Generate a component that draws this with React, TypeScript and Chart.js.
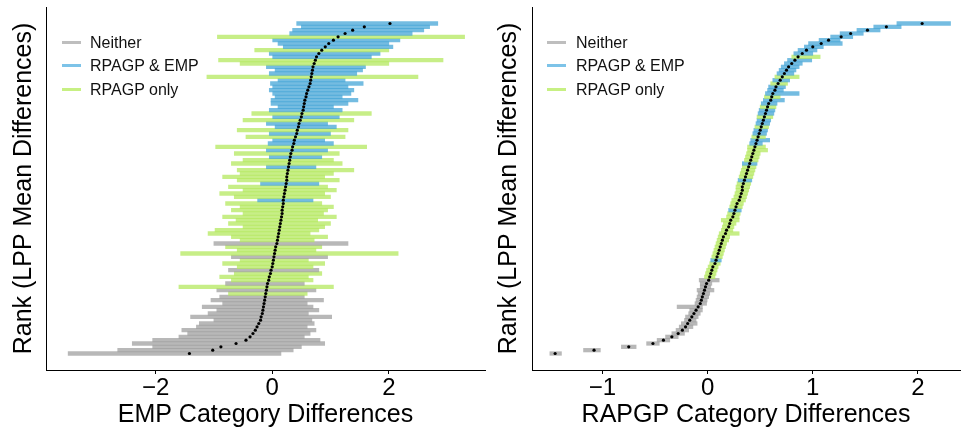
import React, { useEffect, useRef } from 'react';
import { Chart, registerables } from 'chart.js';

Chart.register(...registerables);

const FONT = "'Liberation Sans', Arial, Helvetica, sans-serif";

// Category codes: 0 = Neither, 1 = RPAGP & EMP, 2 = RPAGP only
const LEGEND_LABELS = ['Neither', 'RPAGP & EMP', 'RPAGP only'];
const LEGEND_COLORS = ['#BEBEBE', '#7DC3E8', '#C7F083'];
const BAR_COLORS = ['rgba(160,160,160,0.75)', 'rgba(70,165,215,0.75)', 'rgba(180,232,95,0.75)'];

const Y_TITLE = 'Rank (LPP Mean Differences)';
const LEFT_X_TITLE = 'EMP Category Differences';
const RIGHT_X_TITLE = 'RAPGP Category Differences';
const LEFT_TICKS = [-2, 0, 2];
const RIGHT_TICKS = [-1, 0, 1, 2];

// ---- Left panel (EMP), rows ordered by rank (bottom = 1) ----
const LEFT_MEAN = [
  -1.42, -1.02, -0.88, -0.62, -0.45, -0.38, -0.33, -0.29, -0.26, -0.23,
  -0.20, -0.19, -0.17, -0.16, -0.15, -0.14, -0.13, -0.12, -0.11, -0.10,
  -0.09, -0.08, -0.06, -0.05, -0.03, -0.02, 0.00, 0.01, 0.02, 0.03,
  0.04, 0.05, 0.06, 0.08, 0.09, 0.10, 0.11, 0.12, 0.13, 0.14,
  0.15, 0.16, 0.17, 0.17, 0.18, 0.19, 0.19, 0.20, 0.21, 0.22,
  0.23, 0.24, 0.25, 0.25, 0.26, 0.27, 0.28, 0.29, 0.30, 0.31,
  0.32, 0.34, 0.35, 0.37, 0.38, 0.40, 0.42, 0.43, 0.45, 0.46,
  0.48, 0.50, 0.51, 0.53, 0.54, 0.55, 0.56, 0.58, 0.59, 0.61,
  0.63, 0.65, 0.66, 0.67, 0.68, 0.69, 0.70, 0.72, 0.74, 0.76,
  0.80, 0.85, 0.91, 0.97, 1.05, 1.13, 1.25, 1.38, 1.58, 2.02,
];
const LEFT_LO = [
  -3.50, -2.65, -2.05, -2.40, -2.05, -1.60, -1.45, -1.55, -1.30, -1.25,
  -1.00, -1.40, -1.10, -0.95, -1.20, -0.85, -1.05, -0.90, -0.75, -0.95,
  -1.60, -0.80, -0.70, -0.90, -0.65, -0.75, -0.60, -0.85, -0.55, -0.70,
  -1.57, -0.60, -0.80, -1.00, -0.55, -0.70, -1.10, -0.98, -0.50, -0.75,
  -0.62, -0.85, -0.50, -0.70, -0.55, -0.80, -0.25, -0.65, -0.90, -0.50,
  -0.75, -0.20, -0.60, -0.85, -0.55, -0.60, -0.10, -0.70, -0.50, -0.05,
  -0.65, -0.10, -0.97, -0.07, 0.00, -0.45, -0.05, -0.60, 0.05, -0.10,
  -0.50, 0.00, -0.35, -0.05, 0.10, -0.02, -0.02, 0.05, 0.00, -0.05,
  0.00, -0.03, 0.10, -1.12, -0.05, 0.05, -0.10, -0.55, -0.92, 0.00,
  -0.05, -0.30, 0.19, 0.10, 0.00, -0.94, 0.30, 0.35, 0.50, 0.42,
];
const LEFT_HI = [
  0.15, 0.36, 0.50, 0.90, 0.82, 0.55, 0.65, 0.75, 0.60, 0.72,
  0.68, 1.02, 0.62, 0.80, 0.70, 0.60, 0.88, 0.55, 0.60, 0.75,
  1.05, 0.55, 0.70, 0.62, 0.85, 0.80, 0.70, 0.90, 0.62, 0.95,
  2.16, 0.75, 0.85, 1.30, 0.72, 0.95, 0.65, 0.80, 0.90, 1.00,
  0.78, 1.10, 0.88, 0.95, 1.05, 0.85, 0.70, 1.00, 0.90, 1.10,
  0.95, 0.80, 1.15, 0.90, 1.05, 1.40, 0.75, 1.20, 1.05, 0.85,
  1.15, 0.95, 1.62, 1.05, 0.90, 1.25, 1.00, 1.30, 1.10, 0.95,
  1.40, 1.15, 1.70, 1.20, 1.05, 1.30, 1.47, 1.20, 1.35, 1.40,
  1.30, 1.56, 1.25, 2.50, 1.45, 1.55, 1.60, 2.00, 2.93, 1.70,
  1.85, 2.00, 2.07, 2.00, 2.19, 3.30, 2.40, 2.60, 2.70, 2.84,
];
const LEFT_CAT = [
  0, 0, 0, 0, 0, 0, 0, 0, 0, 0,
  0, 0, 0, 0, 0, 0, 0, 0, 2, 0,
  2, 0, 2, 2, 2, 0, 2, 2, 2, 0,
  2, 2, 2, 0, 2, 2, 2, 2, 2, 2,
  2, 2, 2, 2, 2, 2, 1, 2, 2, 2,
  2, 1, 2, 2, 2, 2, 1, 2, 2, 1,
  2, 1, 2, 1, 1, 2, 1, 2, 1, 1,
  2, 1, 2, 1, 1, 1, 1, 1, 1, 1,
  1, 1, 1, 2, 1, 1, 1, 2, 2, 1,
  1, 2, 1, 1, 1, 2, 1, 1, 1, 1,
];

// ---- Right panel (RAPGP) ----
const RIGHT_MEAN = [
  -1.45, -1.08, -0.75, -0.52, -0.42, -0.34, -0.28, -0.24, -0.21, -0.19,
  -0.17, -0.15, -0.13, -0.11, -0.09, -0.07, -0.06, -0.05, -0.04, -0.03,
  -0.02, -0.01, 0.01, 0.02, 0.03, 0.04, 0.05, 0.07, 0.08, 0.09,
  0.10, 0.11, 0.12, 0.13, 0.14, 0.15, 0.17, 0.18, 0.20, 0.21,
  0.22, 0.24, 0.25, 0.26, 0.27, 0.28, 0.30, 0.31, 0.32, 0.33,
  0.33, 0.34, 0.35, 0.36, 0.37, 0.38, 0.39, 0.40, 0.41, 0.42,
  0.43, 0.44, 0.45, 0.46, 0.47, 0.48, 0.49, 0.50, 0.51, 0.52,
  0.53, 0.54, 0.55, 0.56, 0.57, 0.58, 0.60, 0.61, 0.62, 0.64,
  0.65, 0.67, 0.69, 0.71, 0.73, 0.75, 0.77, 0.80, 0.83, 0.86,
  0.90, 0.94, 1.00, 1.08, 1.15, 1.27, 1.36, 1.52, 1.70, 2.04,
];
const RIGHT_LO = [
  -1.50, -1.18, -0.82, -0.58, -0.48, -0.40, -0.34, -0.30, -0.27, -0.25,
  -0.22, -0.21, -0.18, -0.17, -0.29, -0.12, -0.11, -0.10, -0.09, -0.10,
  -0.07, -0.07, -0.08, -0.03, -0.02, -0.01, 0.00, 0.02, 0.03, 0.04,
  0.05, 0.06, 0.07, 0.08, 0.09, 0.10, 0.11, 0.13, 0.14, 0.15,
  0.13, 0.18, 0.19, 0.20, 0.21, 0.22, 0.23, 0.25, 0.26, 0.27,
  0.27, 0.28, 0.29, 0.30, 0.31, 0.32, 0.33, 0.33, 0.35, 0.36,
  0.37, 0.38, 0.38, 0.40, 0.41, 0.42, 0.43, 0.44, 0.45, 0.46,
  0.47, 0.47, 0.48, 0.49, 0.50, 0.51, 0.53, 0.54, 0.55, 0.57,
  0.58, 0.60, 0.62, 0.64, 0.66, 0.68, 0.70, 0.73, 0.76, 0.80,
  0.82, 0.86, 0.92, 0.96, 1.06, 1.17, 1.26, 1.42, 1.58, 1.80,
];
const RIGHT_HI = [
  -1.39, -1.02, -0.68, -0.46, -0.36, -0.28, -0.22, -0.18, -0.14, -0.10,
  -0.11, -0.09, -0.07, -0.05, -0.05, -0.01, 0.00, 0.01, 0.02, 0.06,
  0.03, 0.04, 0.11, 0.07, 0.08, 0.09, 0.10, 0.12, 0.13, 0.14,
  0.15, 0.16, 0.17, 0.18, 0.20, 0.21, 0.30, 0.24, 0.25, 0.27,
  0.30, 0.30, 0.31, 0.32, 0.33, 0.34, 0.36, 0.37, 0.38, 0.39,
  0.40, 0.41, 0.42, 0.43, 0.44, 0.45, 0.46, 0.47, 0.48, 0.49,
  0.50, 0.57, 0.55, 0.52, 0.59, 0.55, 0.56, 0.57, 0.58, 0.59,
  0.60, 0.62, 0.63, 0.64, 0.65, 0.66, 0.73, 0.69, 0.87, 0.72,
  0.74, 0.76, 0.78, 0.87, 0.82, 0.84, 0.87, 0.90, 0.99, 1.07,
  1.00, 1.04, 1.10, 1.28, 1.26, 1.38, 1.48, 1.64, 1.84, 2.31,
];
const RIGHT_CAT = [
  0, 0, 0, 0, 0, 0, 0, 0, 0, 0,
  0, 0, 0, 0, 0, 0, 0, 0, 0, 0,
  0, 0, 0, 2, 2, 2, 2, 2, 1, 2,
  2, 2, 2, 2, 2, 2, 2, 2, 2, 2,
  2, 2, 2, 1, 2, 2, 2, 2, 2, 2,
  2, 2, 1, 2, 2, 2, 2, 1, 2, 2,
  2, 2, 2, 1, 1, 2, 1, 1, 2, 1,
  1, 2, 1, 1, 2, 1, 1, 2, 1, 1,
  1, 2, 1, 2, 1, 1, 1, 1, 1, 2,
  1, 1, 1, 1, 1, 1, 1, 1, 1, 1,
];

type PanelProps = {
  mean: number[];
  lo: number[];
  hi: number[];
  cat: number[];
  ticks: number[];
  xMin: number;
  xMax: number;
  xTitle: string;
  width: number;
  left: number;
  yAxisWidth: number;
  padRight: number;
  yTitlePad: number;
};

function Panel(p: PanelProps) {
  const ref = useRef<HTMLCanvasElement | null>(null);
  useEffect(() => {
    if (!ref.current) return;
    const n = p.mean.length;
    const ranks = p.mean.map((_, i) => i + 1);
    const chart = new Chart(ref.current, {
      type: 'bar',
      data: {
        datasets: [
          {
            type: 'scatter',
            data: ranks.map((r, i) => ({ x: p.mean[i], y: r })),
            backgroundColor: '#000',
            borderWidth: 0,
            pointRadius: 1.6,
            order: 0,
          } as any,
          {
            type: 'bar',
            indexAxis: 'y',
            data: ranks.map((r, i) => ({ x: [p.lo[i], p.hi[i]], y: r })),
            backgroundColor: p.cat.map((c) => BAR_COLORS[c]),
            borderWidth: 0,
            barThickness: 3.6,
            order: 1,
          } as any,
        ],
      },
      options: {
        responsive: false,
        animation: false,
        indexAxis: 'y',
        events: [],
        layout: { padding: { left: 0, right: p.padRight, top: 7, bottom: 0 } },
        plugins: { legend: { display: false }, tooltip: { enabled: false } },
        scales: {
          x: {
            type: 'linear',
            offset: false,
            min: p.xMin,
            max: p.xMax,
            afterBuildTicks: (axis: any) => {
              axis.ticks = p.ticks.map((v) => ({ value: v }));
            },
            afterFit: (s: any) => {
              s.height = 60;
            },
            grid: { display: true, offset: false, drawOnChartArea: false, drawTicks: true, tickLength: 4, color: '#000', lineWidth: 1 },
            border: { display: true, color: '#000', width: 1 },
            ticks: {
              color: '#000',
              autoSkip: false,
              maxRotation: 0,
              padding: 2,
              font: { size: 24, family: FONT, lineHeight: 1 },
              callback: (v: any) => (Number(v) < 0 ? '\u2212' + Math.abs(Number(v)) : String(v)),
            },
            title: {
              display: true,
              text: p.xTitle,
              color: '#000',
              font: { size: 25, family: FONT, lineHeight: 1 },
              padding: { top: 0, bottom: 2 },
            },
          },
          y: {
            type: 'linear',
            offset: false,
            min: 1 - 0.05 * (n - 1),
            max: n + 0.05 * (n - 1),
            afterFit: (s: any) => {
              s.width = p.yAxisWidth;
            },
            grid: { display: false, offset: false },
            border: { display: true, color: '#000', width: 1 },
            ticks: { display: false },
            title: {
              display: true,
              text: Y_TITLE,
              color: '#000',
              font: { size: 25, family: FONT, lineHeight: 1 },
              padding: { top: p.yTitlePad, bottom: 0 },
            },
          },
        },
      } as any,
    });
    return () => chart.destroy();
  }, []);
  return (
    <canvas
      ref={ref}
      width={p.width}
      height={430}
      style={{ position: 'absolute', left: p.left, top: 0, width: p.width, height: 430 }}
    />
  );
}

function Legend({ lineLeft, textLeft }: { lineLeft: number; textLeft: number }) {
  return (
    <>
      {LEGEND_LABELS.map((lab, i) => {
        const c = 42 + i * 23.5;
        return (
          <React.Fragment key={lab}>
            <div
              style={{
                position: 'absolute',
                left: lineLeft,
                top: c - 1.5,
                width: 19,
                height: 3,
                background: LEGEND_COLORS[i],
              }}
            />
            <div
              style={{
                position: 'absolute',
                left: textLeft,
                top: c - 7.5,
                font: `16px ${FONT}`,
                lineHeight: '16px',
                color: '#111',
                whiteSpace: 'nowrap',
              }}
            >
              {lab}
            </div>
          </React.Fragment>
        );
      })}
    </>
  );
}

export default function App() {
  return (
    <div
      style={{
        position: 'fixed',
        left: 0,
        top: 0,
        width: 964,
        height: 430,
        background: '#fff',
        overflow: 'hidden',
      }}
    >
      <Panel
        mean={LEFT_MEAN}
        lo={LEFT_LO}
        hi={LEFT_HI}
        cat={LEFT_CAT}
        ticks={LEFT_TICKS}
        xMin={-3.88}
        xMax={3.65}
        xTitle={LEFT_X_TITLE}
        width={490}
        left={0}
        yAxisWidth={46}
        padRight={5}
        yTitlePad={11.5}
      />
      <Panel
        mean={RIGHT_MEAN}
        lo={RIGHT_LO}
        hi={RIGHT_HI}
        cat={RIGHT_CAT}
        ticks={RIGHT_TICKS}
        xMin={-1.67}
        xMax={2.4}
        xTitle={RIGHT_X_TITLE}
        width={474}
        left={490}
        yAxisWidth={42}
        padRight={1}
        yTitlePad={7}
      />
      <Legend lineLeft={62} textLeft={90} />
      <Legend lineLeft={547} textLeft={576} />
    </div>
  );
}
